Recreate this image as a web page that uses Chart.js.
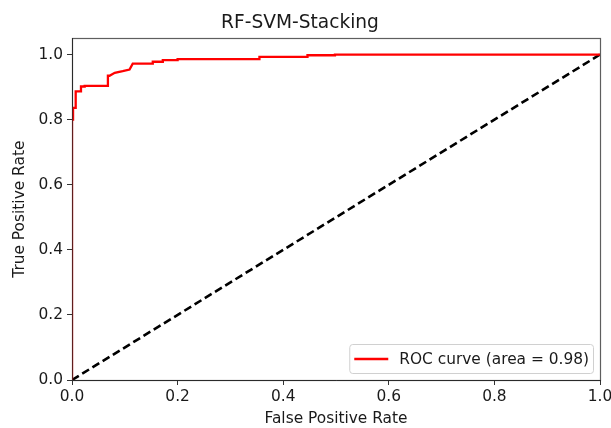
<!DOCTYPE html>
<html>
<head>
<meta charset="utf-8">
<script src="https://cdn.jsdelivr.net/npm/chart.js@4"></script>
<style>
  html, body { margin: 0; padding: 0; background: #fff; }
  #wrap { width: 611px; height: 428px; }
</style>
</head>
<body>
<div id="wrap"><canvas id="roc" width="611" height="428"></canvas></div>
<script>
// ── data ──
const fpr = [0, 0, 0.002, 0.002, 0.007, 0.007, 0.017, 0.017, 0.024, 0.024, 0.068, 0.068, 0.071, 0.081, 0.081, 0.096, 0.096, 0.109, 0.109, 0.115, 0.115, 0.153, 0.153, 0.172, 0.172, 0.2, 0.2, 0.355, 0.355, 0.446, 0.446, 0.498, 0.498, 1.0];
const tpr = [0, 0.8, 0.8, 0.836, 0.836, 0.887, 0.887, 0.902, 0.902, 0.904, 0.904, 0.935, 0.935, 0.944, 0.944, 0.949, 0.949, 0.954, 0.954, 0.972, 0.972, 0.972, 0.978, 0.978, 0.983, 0.983, 0.986, 0.986, 0.993, 0.993, 0.998, 0.998, 1.0, 1.0];
const chanceX = [0, 1];
const chanceY = [0, 1];
const tickVals = [0, 0.2, 0.4, 0.6, 0.8, 1.0];
const rocLabel = "ROC curve (area = 0.98)";
const titleText = "RF-SVM-Stacking";

const FONT  = "'DejaVu Sans', sans-serif";
const INK   = "#1a1a1a";
const SPINE = "#333";
const FS    = 15.4;

// frame (all four spines) like matplotlib, drawn over the lines
const framePlugin = {
  id: "frame",
  afterDatasetsDraw(chart) {
    const { ctx, chartArea: a } = chart;
    ctx.save();
    ctx.strokeStyle = "rgba(40,40,40,0.75)";
    ctx.lineWidth = 1.2;
    ctx.strokeRect(Math.round(a.left) + 0.5, Math.round(a.top) + 0.5,
                   Math.round(a.right - a.left), Math.round(a.bottom - a.top));
    ctx.restore();
  }
};

// legend box in the lower right corner
const legendBox = {
  id: "legendBox",
  afterDraw(chart) {
    const { ctx, chartArea: a } = chart;
    const ds = chart.data.datasets[0];
    ctx.save();
    ctx.font = FS + "px " + FONT;
    const tw = ctx.measureText(ds.label).width;
    const w = 34 + 11 + tw + 9, h = 29;
    const x = a.right - 7 - w, y = a.bottom - 7 - h;
    ctx.fillStyle = "rgba(255,255,255,0.8)";
    ctx.strokeStyle = "#d0d0d0";
    ctx.lineWidth = 1;
    ctx.beginPath();
    ctx.roundRect(x + 0.5, y + 0.5, w, h, 3);
    ctx.fill();
    ctx.stroke();
    ctx.strokeStyle = ds.borderColor;
    ctx.lineWidth = 2.3;
    ctx.beginPath();
    ctx.moveTo(x + 5, y + h / 2 + 0.5);
    ctx.lineTo(x + 39, y + h / 2 + 0.5);
    ctx.stroke();
    ctx.fillStyle = INK;
    ctx.textBaseline = "middle";
    ctx.fillText(ds.label, x + 50, y + h / 2 + 1);
    ctx.restore();
  }
};

const toPts = (xs, ys) => xs.map((x, i) => ({ x, y: ys[i] }));
const fixTicks = s => { s.ticks = tickVals.map(v => ({ value: v })); };

new Chart(document.getElementById("roc"), {
  type: "scatter",
  data: {
    datasets: [
      {
        label: rocLabel,
        data: toPts(fpr, tpr),
        showLine: true,
        borderColor: "#ff0000",
        borderWidth: 2.3,
        pointRadius: 0,
        tension: 0
      },
      {
        label: "chance",
        data: toPts(chanceX, chanceY),
        showLine: true,
        borderColor: "#000",
        borderWidth: 2.6,
        borderDash: [8, 4],
        pointRadius: 0
      }
    ]
  },
  options: {
    responsive: false,
    animation: false,
    layout: { padding: { left: 0, right: 11, top: 0, bottom: 0 } },
    plugins: {
      legend: { display: false },
      tooltip: { enabled: false },
      title: {
        display: true,
        text: titleText,
        color: INK,
        font: { family: FONT, size: 18.6, weight: "normal" },
        padding: { top: 12, bottom: 4 }
      }
    },
    scales: {
      x: {
        type: "linear",
        min: 0, max: 1,
        afterBuildTicks: fixTicks,
        afterFit(s) { s.height = 48; s.paddingRight = 0; s.paddingLeft = 0; },
        grid: { drawOnChartArea: false, drawTicks: true, tickLength: 5, color: SPINE },
        border: { display: true, color: SPINE },
        ticks: {
          color: INK, padding: 3, maxRotation: 0,
          font: { family: FONT, size: FS },
          callback: v => v.toFixed(1)
        },
        title: {
          display: true, text: "False Positive Rate", color: INK,
          font: { family: FONT, size: FS }, padding: { top: 0, bottom: 0 }
        }
      },
      y: {
        type: "linear",
        min: 0, max: 1.05,
        afterBuildTicks: fixTicks,
        afterFit(s) { s.width = 72; },
        grid: { drawOnChartArea: false, drawTicks: true, tickLength: 5, color: SPINE },
        border: { display: true, color: SPINE },
        ticks: {
          color: INK, padding: 4,
          font: { family: FONT, size: FS },
          callback: v => v.toFixed(1)
        },
        title: {
          display: true, text: "True Positive Rate", color: INK,
          font: { family: FONT, size: FS }, padding: { top: 11, bottom: 0 }
        }
      }
    }
  },
  plugins: [framePlugin, legendBox]
});
</script>
</body>
</html>
